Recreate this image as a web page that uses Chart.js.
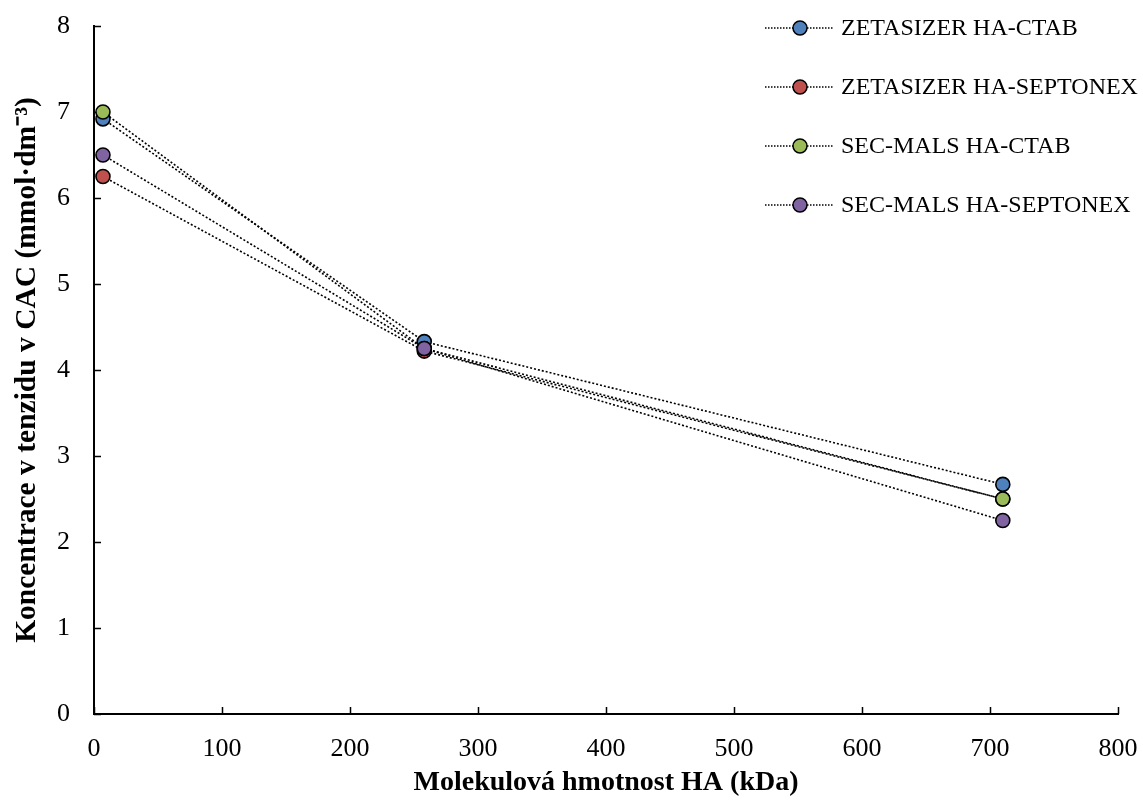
<!DOCTYPE html>
<html>
<head>
<meta charset="utf-8">
<script src="https://cdn.jsdelivr.net/npm/chart.js@4.4.1/dist/chart.umd.min.js"></script>
<style>
    html, body { margin: 0; padding: 0; background: #fff; }
    #wrap { width: 1143px; height: 800px; }
</style>
</head>
<body>
<div id="wrap"><canvas id="chart-line" width="1143" height="800"></canvas></div>
<script>
    // molecular weight of HA (kDa)
    const molWeights = [7, 258, 710];

    const seriesNames = ["ZETASIZER HA-CTAB", "ZETASIZER HA-SEPTONEX", "SEC-MALS HA-CTAB", "SEC-MALS HA-SEPTONEX"];
    const zetaCtab = [6.92, 4.33, 2.67];
    const zetaSeptonex = [6.25, 4.22, 2.5];
    const secCtab = [7.0, 4.25, 2.5];
    const secSeptonex = [6.5, 4.25, 2.25];

    const xTicks = [0, 100, 200, 300, 400, 500, 600, 700, 800];
    const yTicks = [0, 1, 2, 3, 4, 5, 6, 7, 8];

    const colors = ["#4F81BD", "#C0504D", "#9BBB59", "#8064A2"];
    const allSeries = [zetaCtab, zetaSeptonex, secCtab, secSeptonex];

    const serif = "'Liberation Serif', 'Times New Roman', serif";

    function toPoints(values) {
        return molWeights.map(function (x, i) { return { x: x, y: values[i] }; });
    }

    var datasets = allSeries.map(function (values, i) {
        return {
            label: seriesNames[i],
            data: toPoints(values),
            showLine: true,
            borderColor: "#000",
            borderWidth: 1.6,
            borderDash: [2, 2],
            pointRadius: 7,
            pointBorderWidth: 1.6,
            pointBorderColor: "#000",
            pointBackgroundColor: colors[i],
            // later series drawn on top, like the original
            order: allSeries.length - 1 - i
        };
    });

    // short tick marks pointing into the plot
    const innerTicks = {
        id: "innerTicks",
        beforeDatasetsDraw: function (chart) {
            var ctx = chart.ctx;
            var xs = chart.scales.x, ys = chart.scales.y;
            var area = chart.chartArea;
            ctx.save();
            ctx.strokeStyle = "#000";
            ctx.lineWidth = 1.5;
            ctx.beginPath();
            xTicks.forEach(function (v) {
                var px = Math.round(xs.getPixelForValue(v)) + 0.5;
                ctx.moveTo(px, area.bottom);
                ctx.lineTo(px, area.bottom - 7);
            });
            yTicks.forEach(function (v) {
                var py = Math.round(ys.getPixelForValue(v)) + 0.5;
                ctx.moveTo(area.left, py);
                ctx.lineTo(area.left + 7, py);
            });
            ctx.stroke();
            ctx.restore();
        }
    };

    // legend inside the plot, top right
    const legendInside = {
        id: "legendInside",
        afterDraw: function (chart) {
            var ctx = chart.ctx;
            var sets = chart.data.datasets;
            ctx.save();
            for (var i = 0; i < sets.length; i++) {
                var y = 28 + i * 59;
                ctx.strokeStyle = "#000";
                ctx.lineWidth = 1.5;
                ctx.setLineDash([1.5, 1.5]);
                ctx.beginPath();
                ctx.moveTo(765, y);
                ctx.lineTo(833, y);
                ctx.stroke();
                ctx.setLineDash([]);
                ctx.beginPath();
                ctx.arc(800, y, 7, 0, Math.PI * 2);
                ctx.fillStyle = sets[i].pointBackgroundColor;
                ctx.fill();
                ctx.stroke();
                ctx.fillStyle = "#000";
                ctx.font = "24px " + serif;
                ctx.textAlign = "left";
                ctx.textBaseline = "middle";
                ctx.fillText(sets[i].label, 841, y + 1);
            }
            ctx.restore();
        }
    };

    var ctx1 = document.getElementById("chart-line").getContext("2d");
    new Chart(ctx1, {
        type: "scatter",
        data: { datasets: datasets },
        plugins: [innerTicks, legendInside],
        options: {
            responsive: false,
            animation: false,
            layout: {
                padding: { top: 26, right: 25, left: 0, bottom: 0 }
            },
            plugins: {
                legend: { display: false },
                tooltip: { enabled: false }
            },
            scales: {
                x: {
                    type: "linear",
                    min: 0,
                    max: 800,
                    afterFit: function (scale) {
                        scale.height = 86;
                        scale.paddingLeft = 0;
                        scale.paddingRight = 0;
                    },
                    afterBuildTicks: function (scale) {
                        scale.ticks = xTicks.map(function (v) { return { value: v }; });
                    },
                    border: { display: true, color: "#000", width: 2 },
                    grid: { display: false },
                    ticks: {
                        color: "#000",
                        padding: 12,
                        maxRotation: 0,
                        font: { size: 26, family: serif }
                    },
                    title: {
                        display: true,
                        text: "Molekulová hmotnost HA (kDa)",
                        color: "#000",
                        padding: { top: 0, bottom: 0 },
                        font: { size: 28, weight: "bold", family: serif }
                    }
                },
                y: {
                    min: 0,
                    max: 8,
                    afterFit: function (scale) {
                        scale.width = 94;
                        scale.paddingTop = 0;
                        scale.paddingBottom = 0;
                    },
                    afterBuildTicks: function (scale) {
                        scale.ticks = yTicks.map(function (v) { return { value: v }; });
                    },
                    border: { display: true, color: "#000", width: 2 },
                    grid: { display: false },
                    ticks: {
                        color: "#000",
                        padding: 16,
                        font: { size: 26, family: serif }
                    },
                    title: {
                        display: true,
                        text: "Koncentrace v tenzidu v CAC (mmol·dm⁻³)",
                        color: "#000",
                        padding: { top: 10, bottom: 0 },
                        font: { size: 29.5, weight: "bold", family: serif }
                    }
                }
            }
        }
    });
</script>
</body>
</html>
